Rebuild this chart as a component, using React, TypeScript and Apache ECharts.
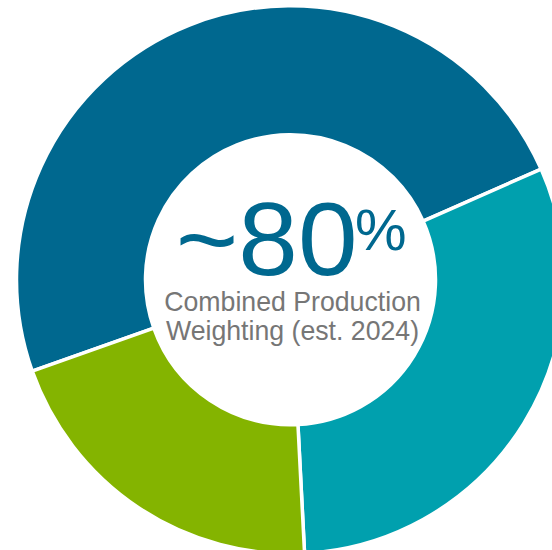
import React, { useEffect, useRef } from "react";
import * as echarts from "echarts";

const categories = ["Segment A", "Segment B", "Segment C"];
const values = [48.8, 30.8, 20.4];
const colors = ["#00688F", "#00A0AE", "#84B400"];
const headline = "~80";
const headlineUnit = "%";
const subtitleLines = ["Combined Production", "Weighting (est. 2024)"];

export default function App() {
  const ref = useRef<HTMLDivElement>(null);
  useEffect(() => {
    if (!ref.current) return;
    const chart = echarts.init(ref.current, undefined, { renderer: "svg" });
    const font = "Liberation Sans, Arial, sans-serif";
    chart.setOption({
      animation: false,
      backgroundColor: "#ffffff",
      series: [
        {
          type: "pie",
          center: [290.5, 279.7],
          radius: [145, 274],
          startAngle: 199.5,
          clockwise: true,
          silent: true,
          label: { show: false },
          labelLine: { show: false },
          emphasis: { disabled: true },
          itemStyle: { borderColor: "#ffffff", borderWidth: 3.5 },
          data: categories.map((name, i) => ({
            name,
            value: values[i],
            itemStyle: { color: colors[i] },
          })),
        },
      ],
      graphic: [
        {
          type: "text",
          x: 357.5,
          y: 238.3,
          scaleX: 1.03,
          originX: 0,
          style: {
            text: headline,
            font: `104px ${font}`,
            fill: colors[0],
            align: "right",
            verticalAlign: "middle",
          },
        },
        {
          type: "text",
          x: 355,
          y: 229.4,
          style: {
            text: headlineUnit,
            font: `58px ${font}`,
            fill: colors[0],
            align: "left",
            verticalAlign: "middle",
          },
        },
        ...subtitleLines.map((t, i) => ({
          type: "text",
          x: 292.5,
          y: i === 0 ? 301.6 : 330.5,
          scaleY: 1.05,
          style: {
            text: t,
            font: `26.7px ${font}`,
            fill: "#767676",
            align: "center",
            verticalAlign: "middle",
          },
        })),
      ],
    });
    return () => chart.dispose();
  }, []);
  return (
    <div
      ref={ref}
      style={{ position: "absolute", left: 0, top: 0, width: 552, height: 550 }}
    />
  );
}
